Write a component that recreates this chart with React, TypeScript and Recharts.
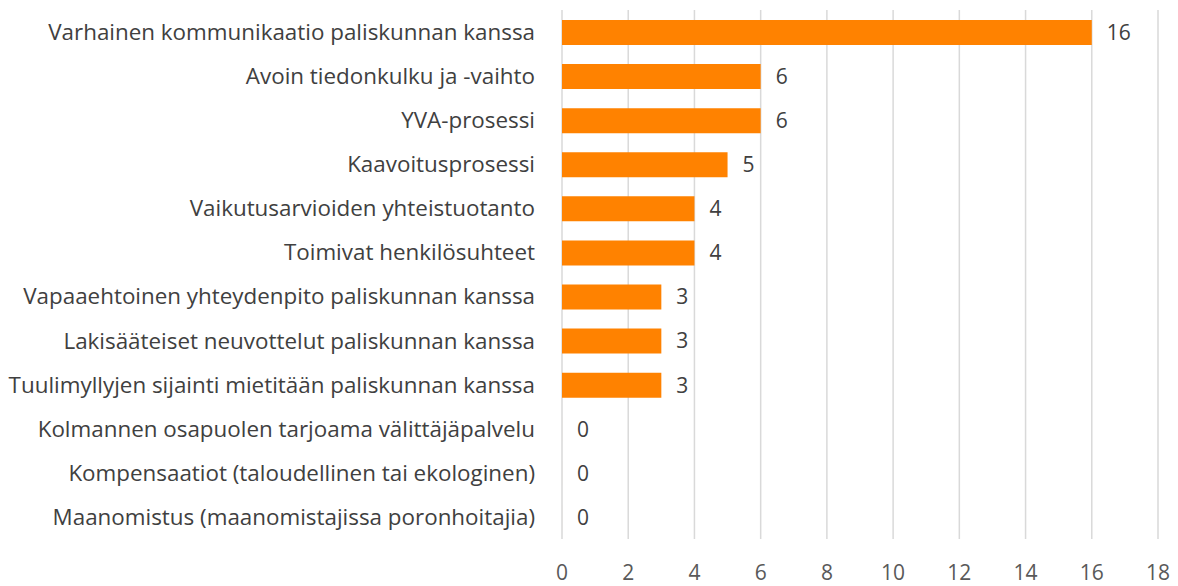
import { BarChart, Bar, XAxis, YAxis, CartesianGrid, LabelList } from "recharts";

const categories = [
  "Varhainen kommunikaatio paliskunnan kanssa",
  "Avoin tiedonkulku ja -vaihto",
  "YVA-prosessi",
  "Kaavoitusprosessi",
  "Vaikutusarvioiden yhteistuotanto",
  "Toimivat henkilösuhteet",
  "Vapaaehtoinen yhteydenpito paliskunnan kanssa",
  "Lakisääteiset neuvottelut paliskunnan kanssa",
  "Tuulimyllyjen sijainti mietitään paliskunnan kanssa",
  "Kolmannen osapuolen tarjoama välittäjäpalvelu",
  "Kompensaatiot (taloudellinen tai ekologinen)",
  "Maanomistus (maanomistajissa poronhoitajia)",
];

const counts = [16, 6, 6, 5, 4, 4, 3, 3, 3, 0, 0, 0];

const xTicks = [0, 2, 4, 6, 8, 10, 12, 14, 16, 18];

const data = categories.map((name, i) => ({ name, value: counts[i] }));

const FONT = "'Open Sans', sans-serif";

// custom label so that zero-length bars still get their "0"
const ValueLabel = (props: any) => {
  const { x, y, width, height, value } = props;
  const right = Number(x) + Math.max(Number(width || 0), 0);
  return (
    <text
      x={right + 15}
      y={Number(y) + Number(height) / 2}
      dy="0.35em"
      fill="#404040"
      fontSize={21}
      fontFamily={FONT}
    >
      {String(value)}
    </text>
  );
};

export default function App() {
  return (
    <div style={{ width: 1170, height: 578, fontFamily: FONT }}>
      <BarChart
        width={1170}
        height={578}
        data={data}
        layout="vertical"
        margin={{ top: 2, right: 20, bottom: 0, left: 0 }}
        barCategoryGap={19}
      >
        <CartesianGrid horizontal={false} stroke="#d9d9d9" strokeWidth={1.5} />
        <XAxis
          type="number"
          domain={[0, 18]}
          ticks={xTicks}
          axisLine={false}
          tickLine={false}
          tickSize={0}
          tickMargin={26}
          height={47}
          tick={{ fill: "#595959", fontSize: 21, fontFamily: FONT }}
        />
        <YAxis
          type="category"
          dataKey="name"
          width={554}
          axisLine={false}
          tickLine={false}
          tickSize={0}
          tickMargin={27}
          interval={0}
          tick={{ fill: "#404040", fontSize: 22.4, fontFamily: FONT }}
        />
        <Bar
          dataKey="value"
          fill="#ff8200"
          barSize={25}
          minPointSize={0.01}
          isAnimationActive={false}
        >
          <LabelList dataKey="value" content={ValueLabel} />
        </Bar>
      </BarChart>
    </div>
  );
}
